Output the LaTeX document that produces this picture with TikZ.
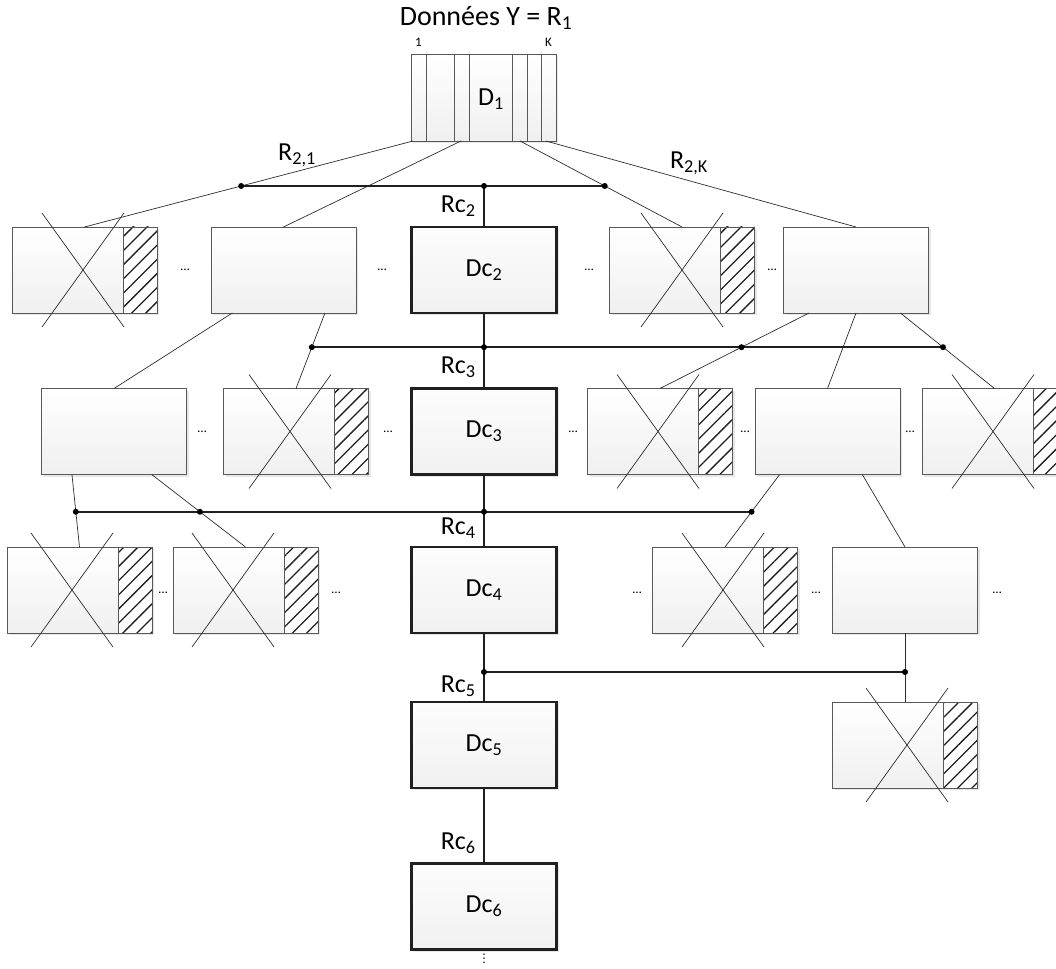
\documentclass[tikz,border=0pt]{standalone}
\usepackage{fontspec}
\setmainfont{Carlito}
\newfontfamily\symbfont{DejaVu Sans}
\usetikzlibrary{calc,shadows,patterns.meta}

\begin{document}
\begin{tikzpicture}[x=1pt, y=-1pt, outer sep=0pt]

\tikzstyle{box}=[draw=gray!70!black, line width=0.8pt, rectangle, minimum width=145pt, minimum height=86pt, top color=white, bottom color=gray!12, drop shadow={shadow xshift=2pt, shadow yshift=-2pt, opacity=0.2}]
\tikzstyle{cbox}=[box, draw=gray!25!black, line width=2.4pt, top color=gray!2, bottom color=gray!11]
\tikzstyle{lien}=[draw=gray!35!black, line width=0.7pt]
\tikzstyle{cline}=[draw=gray!25!black, line width=1.5pt]
\tikzstyle{bus}=[draw=gray!25!black, line width=1.7pt]
\tikzstyle{lab}=[font=\fontsize{26}{30}\selectfont]
\tikzstyle{petit}=[font=\fontsize{13}{14}\selectfont]
\tikzstyle{hach}=[pattern={Lines[angle=45, distance=10pt, line width=1.3pt]}, pattern color=gray!25!black]

\useasboundingbox (0,0) rectangle (1056,968);

% donnees de depart
\node[font=\fontsize{28}{32}\selectfont] (titre) at (486,18) {Données Y = R\textsubscript{1}};
\node[box, minimum height=87pt] (d1) at (483.5,97.5) {};
\foreach \x in {426,454,469,512,527,541} \draw[draw=gray!70!black, line width=0.8pt] (\x,0 |- d1.north) -- (\x,0 |- d1.south);
\node[lab] (d1lab) at (491,99) {D\textsubscript{1}};
\node[petit] (un) at (418.5,42) {1}; \node[petit] (kk) at (548.5,42) {K};

% boites
\foreach \n/\x/\y in {a1/84.5/270, a2/283.5/270, a4/682/270, a5/856/270, b1/114/431.5, b2/296/431.5, b4/660/431.5, b5/827.5/431.5, b6/994.5/431.5, c1/79.5/590, c2/245.5/590, c4/725/590, c5/905/590, d5/905/745}
  \node[box] (\n) at (\x,\y) {};

% boites rejetees
\foreach \n/\dx in {a1/-1.5, a4/0, b2/-6, b4/-2, b6/-1.5, c1/-7.5, c2/-12.5, c4/-2, d5/2}{
  \fill[white] ($(\n.north east)+(-34,0)$) rectangle (\n.south east);
  \fill[hach] ($(\n.north east)+(-34,0)$) rectangle (\n.south east);
  \draw[draw=gray!70!black, line width=0.8pt] ($(\n.north east)+(-34,0)$) rectangle (\n.south east);
  \draw[lien] ($(\n.center)+(\dx-41,-57)$) -- ($(\n.center)+(\dx+41,57)$);
  \draw[lien] ($(\n.center)+(\dx+41,-57)$) -- ($(\n.center)+(\dx-41,57)$);
}

% boites conservees
\node[cbox, lab] (dc2) at (484,270) {Dc\textsubscript{2}};
\node[cbox, lab] (dc3) at (484,431.5) {Dc\textsubscript{3}};
\node[cbox, lab] (dc4) at (484,590) {Dc\textsubscript{4}};
\node[cbox, lab] (dc5) at (484,745) {Dc\textsubscript{5}};
\node[cbox, lab] (dc6) at (484,906.5) {Dc\textsubscript{6}};

% points de suspension
\foreach \x/\y [count=\i] in {185/270, 382/270, 589/270, 772/270, 202/432, 388/432, 573/432, 745/432, 910/432, 163/593, 336/593, 637/593, 816/593, 997/593}
  \node[petit] (pp\i) at (\x,\y) {…};
\node[font=\symbfont\fontsize{12}{12}\selectfont] (suite) at (484,959) {⋮};

% niveau 2
\draw[lien] ($(d1.south west)!0.014!(d1.south east)$) -- coordinate[pos=0.523] (p11) (a1.north);
\draw[lien] ($(d1.south west)!0.345!(d1.south east)$) -- (a2.north);
\draw[lien] ($(d1.south west)!0.752!(d1.south east)$) -- coordinate[pos=0.523] (p13) (a4.north);
\draw[lien] ($(d1.south west)!0.93!(d1.south east)$) -- (a5.north);
\draw[bus] (p11) -- (p13);
\draw[cline] (dc2.north |- p11) -- (dc2.north);
\foreach \p in {p11,p13} \fill (\p) circle (3pt);
\fill (dc2.north |- p11) circle (3pt);

% niveau 3
\draw[lien] ($(a2.south west)!0.147!(a2.south east)$) -- (b1.north);
\draw[lien] ($(a2.south west)!0.786!(a2.south east)$) -- coordinate[pos=0.453] (p21) (b2.north);
\draw[lien] ($(a5.south west)!0.176!(a5.south east)$) -- coordinate[pos=0.453] (p23) (b4.north);
\draw[lien] (a5.south) -- (b5.north);
\draw[lien] ($(a5.south west)!0.806!(a5.south east)$) -- coordinate[pos=0.453] (p24) (b6.north);
\draw[bus] (p21) -- (p24);
\draw[cline] (dc2.south) -- (dc3.north);
\foreach \p in {p21,p23,p24} \fill (\p) circle (3pt);
\fill (dc3.north |- p21) circle (3pt);

% niveau 4
\draw[lien] ($(b1.south west)!0.21!(b1.south east)$) -- coordinate[pos=0.514] (p31) (c1.north);
\draw[lien] ($(b1.south west)!0.76!(b1.south east)$) -- coordinate[pos=0.514] (p32) (c2.north);
\draw[lien] ($(b5.south west)!0.17!(b5.south east)$) -- coordinate[pos=0.514] (p34) (c4.north);
\draw[lien] ($(b5.south west)!0.74!(b5.south east)$) -- (c5.north);
\draw[bus] (p31) -- (p34);
\draw[cline] (dc3.south) -- (dc4.north);
\foreach \p in {p31,p32,p34} \fill (\p) circle (3pt);
\fill (dc4.north |- p31) circle (3pt);

% niveau 5 et 6
\draw[lien] (c5.south) -- coordinate[pos=0.565] (p42) (d5.north);
\draw[bus] (dc4.south |- p42) -- (p42);
\draw[cline] (dc4.south) -- (dc5.north);
\draw[cline] (dc5.south) -- (dc6.north);
\fill (p42) circle (3pt); \fill (dc4.south |- p42) circle (3pt);

% etiquettes
\node[lab] (r21) at (297,155) {R\textsubscript{2,1}};
\node[lab] (r2k) at (689,163) {R\textsubscript{2,K}};
\node[lab, anchor=east] (rc2) at (479,206) {Rc\textsubscript{2}};
\node[lab, anchor=east] (rc3) at (479,367) {Rc\textsubscript{3}};
\node[lab, anchor=east] (rc4) at (479,528) {Rc\textsubscript{4}};
\node[lab, anchor=east] (rc5) at (479,686) {Rc\textsubscript{5}};
\node[lab, anchor=east] (rc6) at (479,843) {Rc\textsubscript{6}};
\end{tikzpicture}
\end{document}
